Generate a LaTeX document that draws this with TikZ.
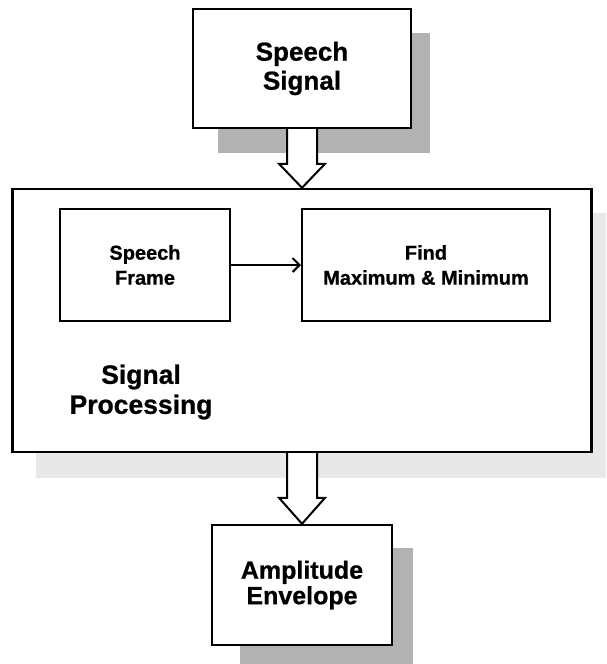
\documentclass[tikz,border=0pt]{standalone}
\usepackage{fontspec}
\setmainfont{Liberation Sans}[BoldFeatures={FakeBold=0.8}]
\usetikzlibrary{calc,arrows.meta}
\begin{document}
\begin{tikzpicture}[x=1pt,y=-1pt,
  box/.style={draw=black,line width=2.4pt,fill=white,inner sep=0pt,align=center,font=\bfseries},
  innerbox/.style={draw=black,line width=2pt,fill=white,inner sep=0pt,align=center,font=\fontsize{20}{25}\selectfont\bfseries},
  shadowdark/.style={fill=black!30,draw=none},
  shadowlight/.style={fill=black!9,draw=none},
  blockarrow/.style={draw=black,line width=2pt,fill=white,line join=miter},
  thinarrow/.style={draw=black,line width=1.5pt,-{Straight Barb[length=7pt,width=14pt,line width=2pt]}}
]
\useasboundingbox (0,0) rectangle (606,664);
% shadows
\fill[shadowdark] (218,33) rectangle (430,153);
\fill[shadowlight] (36,213) rectangle (606,478);
\fill[shadowdark] (240,548) rectangle (413,670);
% boxes
\node[box,minimum width=218pt,minimum height=119pt,font=\fontsize{26}{29}\selectfont\bfseries] (sig) at (302,68.5) {Speech\\Signal};
\node[box,minimum width=579pt,minimum height=263pt] (main) at (302,320.5) {};
\node[innerbox,minimum width=170pt,minimum height=112pt] (frame) at (145,265) {Speech\\Frame};
\node[innerbox,minimum width=248pt,minimum height=112pt] (find) at (426,265) {Find\\Maximum \& Minimum};
\node[align=center,font=\fontsize{26.5}{30}\selectfont\bfseries] (sp) at (141,392) {Signal\\Processing};
\node[box,minimum width=180pt,minimum height=120pt,font=\fontsize{25}{25.5}\selectfont\bfseries] (amp) at (302,585) {Amplitude\\Envelope};
% connectors
\draw[thinarrow] (frame.east) -- (find.west);
\draw[blockarrow] ($(sig.south)+(-15,0)$) -- ($(main.north)+(-15,-24)$) -- ($(main.north)+(-23,-24)$) -- (main.north) -- ($(main.north)+(23,-24)$) -- ($(main.north)+(15,-24)$) -- ($(sig.south)+(15,0)$);
\draw[blockarrow] ($(main.south)+(-15,0)$) -- ($(amp.north)+(-15,-26)$) -- ($(amp.north)+(-23,-26)$) -- (amp.north) -- ($(amp.north)+(23,-26)$) -- ($(amp.north)+(15,-26)$) -- ($(main.south)+(15,0)$);
\end{tikzpicture}
\end{document}
